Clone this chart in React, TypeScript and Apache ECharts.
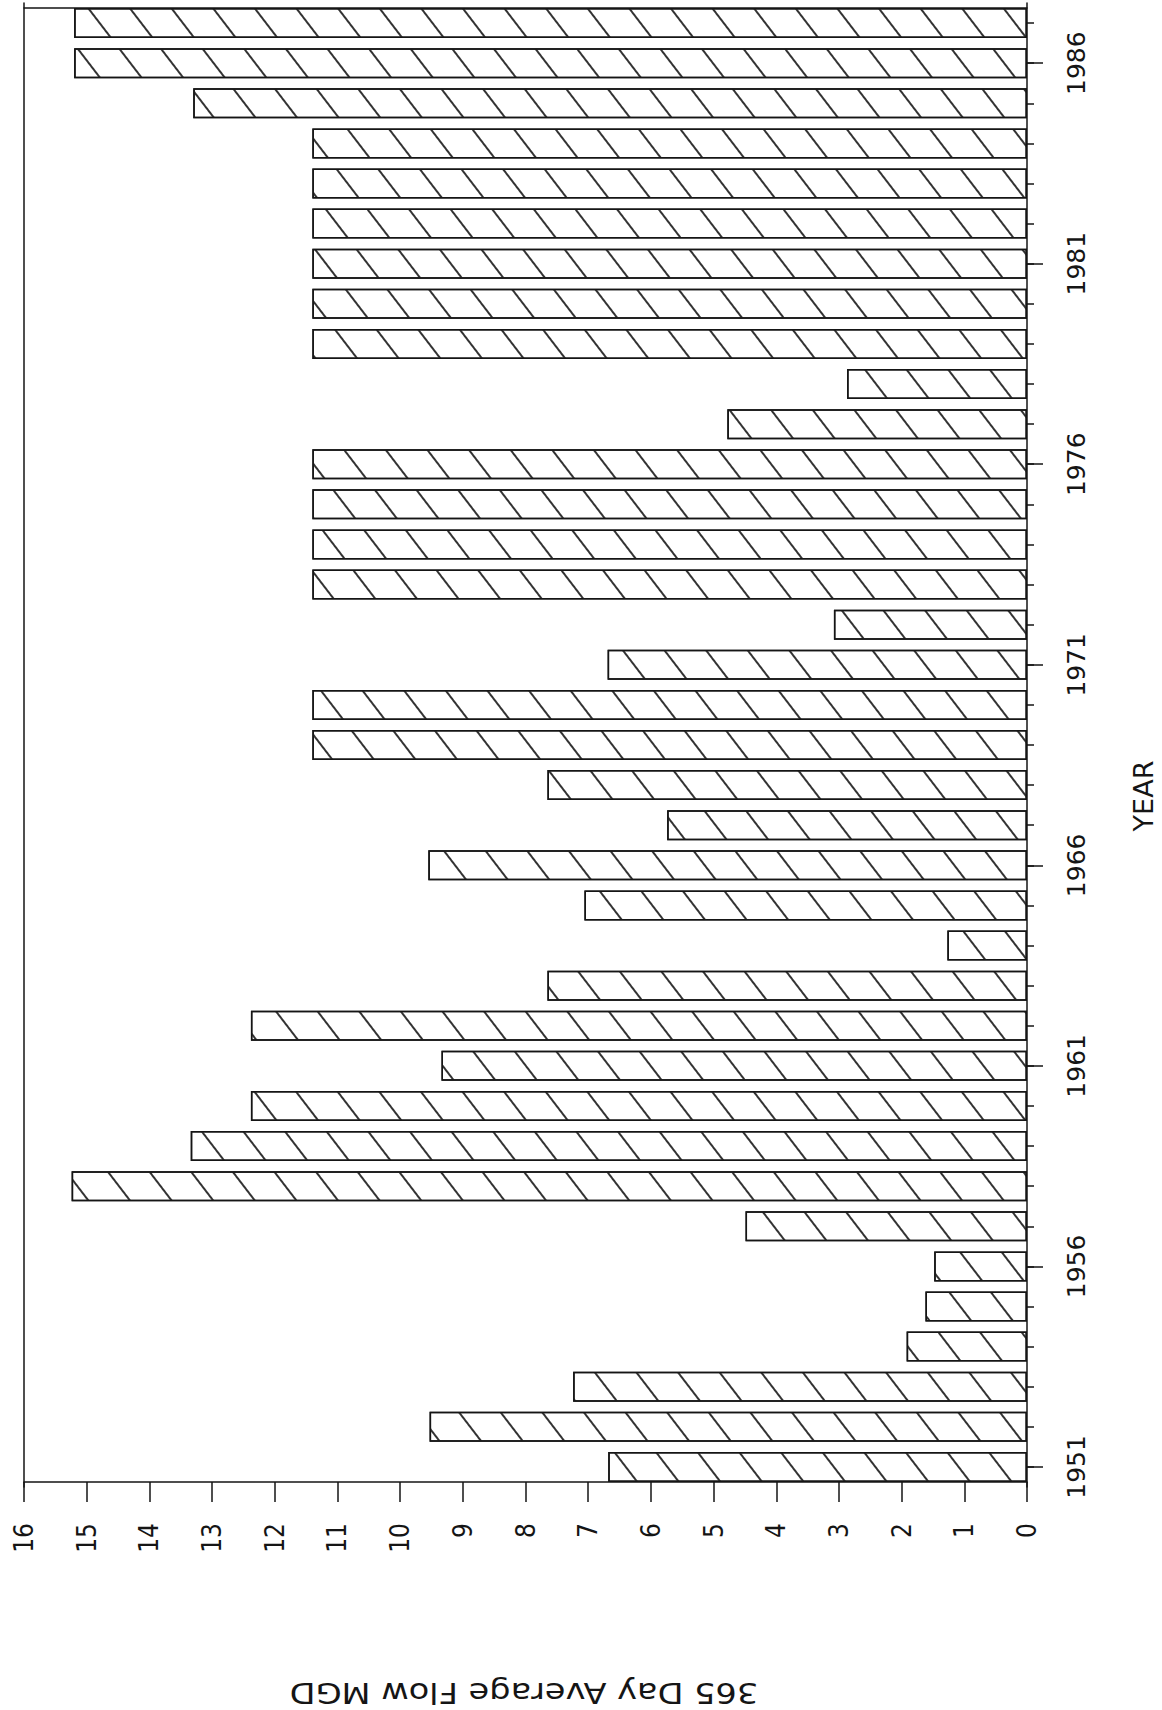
import React, { useEffect, useRef } from "react";
import * as echarts from "echarts";

// Categories (years) from bottom to top of the rotated chart
const years: string[] = [
  "1951", "1952", "1953", "1954", "1955", "1956", "1957", "1958", "1959", "1960",
  "1961", "1962", "1963", "1964", "1965", "1966", "1967", "1968", "1969", "1970",
  "1971", "1972", "1973", "1974", "1975", "1976", "1977", "1978", "1979", "1980",
  "1981", "1982", "1983", "1984", "1985", "1986", "1987",
];

// 365 Day Average Flow, MGD
const flowMGD: number[] = [
  6.68, 9.53, 7.24, 1.92, 1.62, 1.48, 4.49, 15.24, 13.34, 12.38,
  9.34, 12.38, 7.65, 1.27, 7.06, 9.55, 5.74, 7.65, 11.4, 11.4,
  6.69, 3.08, 11.4, 11.4, 11.4, 11.4, 4.78, 2.87, 11.4, 11.4,
  11.4, 11.4, 11.4, 11.4, 13.3, 15.2, 15.2,
];

const valueMin = 0;
const valueMax = 16;
const valueStep = 1;

const valueTitle = "365 Day Average Flow MGD";
const yearTitle = "YEAR";

const INK = "#151515";
const FONT = "DejaVu Sans";
const NARROW_FONT = "'DejaVu Sans Condensed', 'Liberation Sans Narrow', 'DejaVu Sans'";

export default function App() {
  const ref = useRef<HTMLDivElement>(null);

  useEffect(() => {
    if (!ref.current) return;
    const chart = echarts.init(ref.current, undefined, { renderer: "svg" });
    const line = { color: INK, width: 1.5 };
    chart.setOption({
      animation: false,
      backgroundColor: "#ffffff",
      grid: {
        left: 24,
        right: 135,
        top: 3,
        bottom: 223,
        containLabel: false,
        outerBoundsMode: "none",
      },
      xAxis: [
        {
          type: "value",
          inverse: true,
          min: valueMin,
          max: valueMax,
          interval: valueStep,
          position: "bottom",
          offset: -5,
          axisLine: { show: true, onZero: false, lineStyle: line },
          axisTick: { show: true, length: 20, lineStyle: line },
          axisLabel: {
            rotate: 90,
            margin: 41,
            fontSize: 26,
            fontFamily: NARROW_FONT,
            color: INK,
          },
          splitLine: { show: false },
        },
        {
          type: "value",
          inverse: true,
          min: valueMin,
          max: valueMax,
          interval: valueStep,
          position: "top",
          offset: -5,
          axisLine: { show: true, onZero: false, lineStyle: line },
          axisTick: { show: false },
          axisLabel: { show: false },
          splitLine: { show: false },
        },
      ],
      yAxis: [
        {
          type: "category",
          data: years,
          position: "right",
          axisLine: { show: true, onZero: false, lineStyle: line },
          axisTick: {
            show: true,
            alignWithLabel: true,
            interval: 0,
            length: 7,
            lineStyle: line,
          },
          axisLabel: {
            interval: 4,
            rotate: 90,
            margin: 37,
            fontSize: 25,
            fontFamily: FONT,
            color: INK,
          },
          splitLine: { show: false },
        },
        {
          type: "category",
          data: years,
          position: "right",
          axisLine: { show: false, onZero: false },
          axisTick: {
            show: true,
            alignWithLabel: true,
            interval: 4,
            length: 16,
            lineStyle: line,
          },
          axisLabel: { show: false },
          splitLine: { show: false },
        },
        {
          type: "value",
          position: "left",
          min: 0,
          max: 1,
          axisLine: { show: true, onZero: false, lineStyle: line },
          axisTick: { show: false },
          axisLabel: { show: false },
          splitLine: { show: false },
        },
      ],
      series: [
        {
          type: "bar",
          xAxisIndex: 0,
          yAxisIndex: 0,
          data: flowMGD,
          barWidth: 30,
          silent: true,
          itemStyle: {
            color: "#ffffff",
            borderColor: INK,
            borderWidth: 1.5,
            decal: {
              symbol: "rect",
              symbolSize: 1,
              color: "#333333",
              dashArrayX: [1, 0],
              dashArrayY: [1.5, 30.5],
              rotation: 0.916,
            },
          },
          emphasis: { disabled: true },
        },
      ],
      graphic: [
        {
          type: "text",
          x: 524,
          y: 1693,
          rotation: Math.PI,
          scaleX: 1.2,
          style: {
            text: valueTitle,
            fontSize: 28,
            fontFamily: FONT,
            fill: INK,
            align: "center",
            verticalAlign: "middle",
          },
        },
        {
          type: "text",
          x: 1143,
          y: 796,
          rotation: Math.PI / 2,
          style: {
            text: yearTitle,
            fontSize: 27,
            fontFamily: FONT,
            fill: INK,
            align: "center",
            verticalAlign: "middle",
          },
        },
      ],
    });
    return () => {
      chart.dispose();
    };
  }, []);

  return (
    <div
      ref={ref}
      style={{
        position: "absolute",
        left: 0,
        top: 0,
        width: 1162,
        height: 1710,
        background: "#fff",
      }}
    />
  );
}
